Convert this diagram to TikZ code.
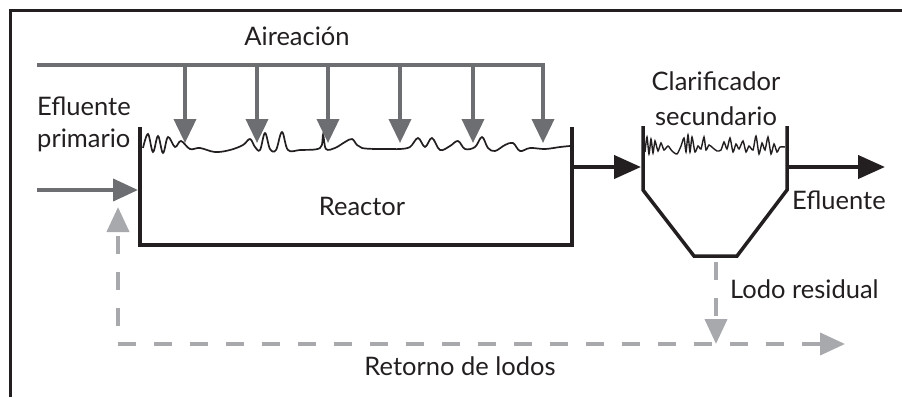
\documentclass[tikz,border=0pt]{standalone}
\usepackage{fontspec}
\setmainfont{Lato}
\usetikzlibrary{arrows.meta}
\definecolor{ink}{HTML}{231F20}
\definecolor{midgray}{HTML}{6D6E71}
\definecolor{palegray}{HTML}{A7A9AC}
\begin{document}
\begin{tikzpicture}[x=1pt,y=-1pt,
  lbl/.style={font=\fontsize{25.5}{30}\selectfont, text=ink, inner sep=0pt},
  air/.style={draw=midgray, line width=3.8pt, -{Triangle[length=24pt,width=22pt]}},
  header/.style={draw=midgray, line width=4.5pt},
  wall/.style={draw=ink, line width=4.8pt},
  cwall/.style={draw=ink, line width=3.5pt, line join=miter},
  flow/.style={draw=ink, line width=4.2pt, -{Triangle[length=27pt,width=23pt]}},
  inflow/.style={draw=midgray, line width=4pt, -{Triangle[length=25pt,width=22pt]}},
  ret/.style={draw=palegray, line width=4pt, dash pattern=on 18pt off 18pt, -{Triangle[length=25pt,width=22pt]}},
  wave/.style={draw=ink, line width=1.7pt}]
\useasboundingbox (0,0) rectangle (902,397);
% frame
\coordinate (fbl) at (10,397);
\coordinate (ftl) at (10,10);
\coordinate (ftr) at (902,10);
\draw[ink, line width=3pt] (fbl) -- (ftl) -- (ftr);

% aeration header
\coordinate (h0) at (37,65);
\coordinate (h1) at (545,65);
\draw[header] (h0) -- (h1);
\foreach \i/\x in {1/185,2/257,3/328,4/400,5/473,6/543}{
  \coordinate (a\i) at (\x,65);
  \coordinate (b\i) at (\x,143);
}
\foreach \i in {1,...,6}{ \draw[air] (a\i) -- (b\i); }

% reactor
\coordinate (r1) at (140,127);
\coordinate (r2) at (140,245);
\coordinate (r3) at (572,245);
\coordinate (r4) at (572,127);
\draw[wall, line join=miter] (r1) -- (r2) -- (r3) -- (r4);

% reactor water surface
\draw[wave] plot[smooth, tension=0.6] coordinates {
(143,148) (148,134) (153,152) (158,136) (163,153) (168,137) (175,147) (181,141)
(190,149) (200,148) (215,152) (230,150) (243,145) (250,139) (255,147) (260,150)
(265,133) (270,149) (276,150) (282,132) (288,150) (300,150) (320,148) (323,135)
(326,149) (335,148) (345,142) (352,139) (357,145) (362,148) (375,149) (392,149)
(400,149) (410,147) (418,138) (425,147) (432,138) (440,150) (450,146) (458,141)
(465,149) (475,147) (482,137) (488,148) (495,151) (505,145) (513,143) (520,151)
(530,148) (545,149) (560,147) (570,146)};

% clarifier
\coordinate (c1) at (643,126);
\coordinate (c2) at (643,190);
\coordinate (c3) at (694,256);
\coordinate (c4) at (737,256);
\coordinate (c5) at (787,190);
\coordinate (c6) at (787,126);
\draw[cwall] (c1) -- (c2) -- (c3) -- (c4) -- (c5) -- (c6);

\draw[wave, line width=1.4pt] plot[smooth, tension=0.4] coordinates {
(645,152) (647,137) (649,154) (651,139) (653,153) (655,141) (658,151) (661,143)
(664,150) (668,146) (672,151) (677,154) (681,146) (684,138) (686,152) (688,135)
(690,152) (692,137) (695,152) (698,146) (701,149) (704,137) (706,150) (709,145)
(713,148) (717,151) (721,150) (724,142) (727,149) (730,138) (733,152) (736,144)
(739,149) (743,141) (746,152) (749,146) (753,150) (756,136) (759,154) (762,143)
(765,150) (768,137) (771,154) (774,144) (777,152) (780,147) (785,147)};

% flows
\coordinate (rout) at (574,167);
\coordinate (cin) at (641,167);
\draw[flow] (rout) -- (cin);
\coordinate (cout) at (789,167);
\coordinate (eend) at (885,167);
\draw[flow] (cout) -- (eend);
\coordinate (in0) at (37,190);
\coordinate (in1) at (138,190);
\draw[inflow] (in0) -- (in1);

% sludge lines
\coordinate (corner) at (118,344);
\coordinate (rettip) at (118,207);
\coordinate (retend) at (845,344);
\coordinate (wtop) at (716,262);
\coordinate (wbot) at (716,344);
\draw[ret, dash phase=18pt] (corner) -- (rettip);
\draw[ret] (corner) -- (retend);
\draw[ret] (wtop) -- (wbot);

% labels
\node[lbl, anchor=base] (aireacion) at (297,45) {Aireación};
\node[lbl, anchor=base west] (ef1) at (37,115) {Efluente};
\node[lbl, anchor=base west] (ef2) at (37,147) {primario};
\node[lbl, anchor=base] (reactor) at (362,215) {Reactor};
\node[lbl, anchor=base] (clar1) at (716,90) {Clarificador};
\node[lbl, anchor=base] (clar2) at (716,125) {secundario};
\node[lbl, anchor=base west] (efl) at (792,209) {Efluente};
\node[lbl, anchor=base west] (lodo) at (730,298) {Lodo residual};
\node[lbl, anchor=base] (retorno) at (460,375) {Retorno de lodos};
\end{tikzpicture}
\end{document}
